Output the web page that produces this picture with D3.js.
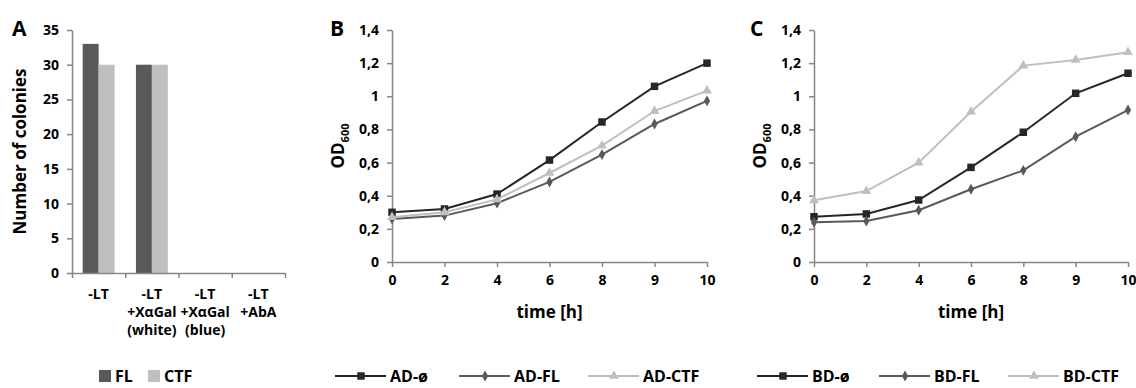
<!DOCTYPE html>
<html>
<head>
<meta charset="utf-8">
<script src="https://cdnjs.cloudflare.com/ajax/libs/d3/7.8.5/d3.min.js"></script>
<style>
  body { margin: 0; background: #fff; }
  svg { display: block; }
  svg text { font-family: "Open Sans", "Noto Sans", sans-serif; font-weight: 700; }
</style>
</head>
<body>
<svg id="chart" width="1136" height="388"></svg>
<script>
// Panel A: colony counts
const colonyCategories = ['-LT', '-LT\n+XαGal\n(white)', '-LT\n+XαGal\n(blue)', '-LT\n+AbA'];
const colonySeries = ['FL', 'CTF'];
const colonyFL = [33, 30, 0, 0];
const colonyCTF = [30, 30, 0, 0];
const colonyTicks = [0, 5, 10, 15, 20, 25, 30, 35];

// Panels B and C: growth curves
const timeLabels = ['0', '2', '4', '6', '8', '9', '10'];
const odTicks = [0, 0.2, 0.4, 0.6, 0.8, 1, 1.2, 1.4];
const adNames = ['AD-ø', 'AD-FL', 'AD-CTF'];
const adEmpty = [0.30, 0.32, 0.41, 0.615, 0.845, 1.06, 1.20];
const adFL = [0.26, 0.28, 0.355, 0.483, 0.648, 0.833, 0.972];
const adCTF = [0.27, 0.30, 0.378, 0.537, 0.702, 0.911, 1.034];
const bdNames = ['BD-ø', 'BD-FL', 'BD-CTF'];
const bdEmpty = [0.273, 0.29, 0.374, 0.571, 0.783, 1.018, 1.139];
const bdFL = [0.24, 0.247, 0.312, 0.439, 0.553, 0.756, 0.917];
const bdCTF = [0.372, 0.428, 0.599, 0.907, 1.185, 1.219, 1.266];

const colors = ['#262626', '#595959', '#bfbfbf'];
const barColors = ['#595959', '#bfbfbf'];
const symbols = [d3.symbolSquare, d3.symbolDiamond, d3.symbolTriangle];
const symbolSizes = [56, 34, 42];
const axisColor = '#868686';

const svg = d3.select('#chart');
const fmt = d => d3.format('.2~f')(d).replace('.', ',');

function styleAxis(g) {
  g.select('.domain').attr('stroke', axisColor).attr('stroke-width', 1.5);
  g.selectAll('.tick line').attr('stroke', axisColor).attr('stroke-width', 1.5);
  g.selectAll('.tick text').attr('fill', '#000').style('font-size', '14px');
}

// ---------- Panel A ----------
(function () {
  const left = 72, right = 285, top = 30, bottom = 273;
  const y = d3.scaleLinear().domain([0, 35]).range([bottom, top]);
  const x = d3.scaleBand().domain(colonyCategories).range([left, right]).padding(0);
  const xs = d3.scaleBand().domain(colonySeries).range([0, x.bandwidth()]).paddingInner(0).paddingOuter(0.67);

  const rows = colonyCategories.map((c, i) => ({ cat: c, values: [colonyFL[i], colonyCTF[i]] }));
  svg.append('g').selectAll('g').data(rows).join('g')
    .attr('transform', d => `translate(${x(d.cat)},0)`)
    .selectAll('rect')
    .data(d => d.values.map((v, i) => ({ s: colonySeries[i], v, i })))
    .join('rect')
    .attr('x', d => xs(d.s))
    .attr('y', d => y(d.v))
    .attr('width', xs.bandwidth())
    .attr('height', d => bottom - y(d.v))
    .attr('fill', d => barColors[d.i]);

  svg.append('g').attr('transform', `translate(${left},0)`)
    .call(d3.axisLeft(y).tickValues(colonyTicks).tickSize(5).tickSizeOuter(0).tickPadding(8))
    .call(styleAxis);

  // tick marks between categories
  svg.append('g').attr('transform', `translate(0,${bottom})`)
    .call(d3.axisBottom(d3.scaleLinear().domain([0, 4]).range([left, right])).ticks(4).tickSize(5).tickSizeOuter(0).tickFormat(''))
    .call(styleAxis);

  // category labels
  const lab = svg.append('g').attr('transform', `translate(0,${bottom})`)
    .call(d3.axisBottom(x).tickSize(0).tickPadding(16));
  lab.select('.domain').remove();
  lab.selectAll('.tick text').each(function (d) {
    const t = d3.select(this).text(null).attr('fill', '#000').style('font-size', '14px');
    d.split('\n').forEach((line, i) => {
      t.append('tspan').attr('x', 0).attr('dy', i === 0 ? '0.71em' : 18).text(line);
    });
  });

  svg.append('text').attr('transform', `translate(26,${(top + bottom) / 2}) rotate(-90)`)
    .attr('text-anchor', 'middle').style('font-size', '17px').text('Number of colonies');
  svg.append('text').attr('x', 12).attr('y', 36).style('font-size', '21px').text('A');

  // legend
  const leg = svg.append('g').attr('transform', 'translate(99,370)');
  const items = leg.selectAll('g').data(colonySeries).join('g')
    .attr('transform', (d, i) => `translate(${i * 49},0)`);
  items.append('rect').attr('width', 12).attr('height', 12).attr('fill', (d, i) => barColors[i]);
  items.append('text').attr('x', 16).attr('y', 6).attr('dy', '0.36em').style('font-size', '16px').text(d => d);
})();

// ---------- Panels B and C ----------
function growthPanel(opts) {
  const { left, right, letter, letterX, titleX, names, series, legendX } = opts;
  const top = 30, bottom = 262;
  const x = d3.scalePoint().domain(timeLabels).range([left, right]).padding(0);
  const y = d3.scaleLinear().domain([0, 1.4]).range([bottom, top]);

  svg.append('g').attr('transform', `translate(${left},0)`)
    .call(d3.axisLeft(y).tickValues(odTicks).tickFormat(fmt).tickSize(5).tickSizeOuter(0).tickPadding(8))
    .call(styleAxis);
  svg.append('g').attr('transform', `translate(0,${bottom})`)
    .call(d3.axisBottom(x).tickSize(5).tickSizeOuter(0).tickPadding(8))
    .call(styleAxis);

  const line = d3.line().x((d, i) => x(timeLabels[i])).y(d => y(d));
  series.forEach((vals, k) => {
    svg.append('path').datum(vals)
      .attr('fill', 'none').attr('stroke', colors[k]).attr('stroke-width', 2).attr('d', line);
    svg.append('g').selectAll('path').data(vals).join('path')
      .attr('transform', (d, i) => `translate(${x(timeLabels[i])},${y(d)})`)
      .attr('d', d3.symbol().type(symbols[k]).size(symbolSizes[k]))
      .attr('fill', colors[k]);
  });

  const t = svg.append('text').attr('transform', `translate(${titleX},${(top + bottom) / 2}) rotate(-90)`)
    .attr('text-anchor', 'middle').style('font-size', '17px');
  t.append('tspan').text('OD');
  t.append('tspan').attr('dy', 5).style('font-size', '11px').text('600');

  svg.append('text').attr('x', (left + right) / 2).attr('y', 312).attr('dy', '0.36em')
    .attr('text-anchor', 'middle').style('font-size', '17px').text('time [h]');
  svg.append('text').attr('x', letterX).attr('y', 36).style('font-size', '21px').text(letter);

  // legend
  const leg = svg.append('g').attr('transform', `translate(0,376)`);
  names.forEach((n, k) => {
    const g = leg.append('g').attr('transform', `translate(${legendX[k]},0)`);
    g.append('line').attr('x1', 0).attr('x2', 51).attr('stroke', colors[k]).attr('stroke-width', 2);
    g.append('path').attr('transform', 'translate(26,0)')
      .attr('d', d3.symbol().type(symbols[k]).size(symbolSizes[k]))
      .attr('fill', colors[k]);
    g.append('text').attr('x', 55).attr('dy', '0.36em').style('font-size', '16px').text(n);
  });
}

growthPanel({
  left: 392, right: 707, letter: 'B', letterX: 330, titleX: 344,
  names: adNames, series: [adEmpty, adFL, adCTF], legendX: [335, 459, 588]
});
growthPanel({
  left: 814, right: 1128, letter: 'C', letterX: 750, titleX: 766,
  names: bdNames, series: [bdEmpty, bdFL, bdCTF], legendX: [757, 879, 1008]
});
</script>
</body>
</html>
